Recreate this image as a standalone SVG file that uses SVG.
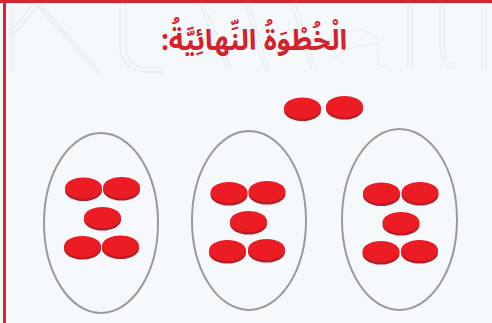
<svg xmlns="http://www.w3.org/2000/svg" width="492" height="323" viewBox="0 0 492 323">
<defs>
<style>
.bg{fill:#f5f9fc}
.wm{fill:none;stroke:#e8ebee;stroke-width:1.2}
.frame{stroke:#d3262f;stroke-width:3;fill:none}
.title{font-family:"Noto Sans Arabic","DejaVu Sans",sans-serif;font-weight:bold;font-size:28px;fill:#d3232c}
.group{fill:none;stroke:#999a9c;stroke-width:2}
.rim{fill:#b51d27}
.face{fill:#ec1c24}
</style>
<g id="disc">
<ellipse class="rim" cx="0" cy="1.5" rx="18.5" ry="10.5"/>
<ellipse class="face" cx="0" cy="-1" rx="18.5" ry="10.5"/>
</g>
</defs>
<rect class="bg" x="0" y="0" width="492" height="323"/>
<g id="watermark">
<path class="wm" d="M10 8 V70 M13 8 V70 M10 32 L34 4 M13 35 L38 6 M36 4 L98 74 M40 4 L102 74"/>
<path class="wm" d="M120 0 V45 Q120 72 150 72 H164 M126 0 V45 Q126 68 150 68 H164"/>
<path class="wm" d="M200 5 L228 70 M204 5 L232 70 M245 5 L265 70 M249 5 L269 70 M292 5 L312 70 M296 5 L316 70"/>
<path class="wm" d="M330 40 Q360 20 378 40 V62 Q380 70 388 66 M378 44 Q345 45 333 60"/>
<path class="wm" d="M408 5 V70 M412 5 V70 M440 5 V45 Q441 68 455 68 M444 5 V45 Q445 64 455 64 M482 5 V70 M486 5 V70"/>
</g>
<g id="frame">
<line class="frame" x1="0" y1="1.5" x2="492" y2="1.5"/>
<line class="frame" x1="4.5" y1="0" x2="4.5" y2="323"/>
</g>
<g id="title">
<text class="title" x="254" y="50" text-anchor="middle" direction="rtl">الْخُطْوَةُ النِّهائِيَّةُ:</text>
</g>
<g id="extra">
<use href="#disc" x="302.5" y="109"/>
<use href="#disc" x="344.5" y="107.5"/>
</g>
<g id="set1">
<ellipse class="group" cx="101" cy="223" rx="57" ry="90"/>
<use href="#disc" x="83.5" y="189"/>
<use href="#disc" x="121.5" y="188.5"/>
<use href="#disc" x="102.5" y="218.5"/>
<use href="#disc" x="82.5" y="247.5"/>
<use href="#disc" x="120.5" y="247"/>
</g>
<g id="set2">
<ellipse class="group" cx="249" cy="220.5" rx="57" ry="89.5"/>
<use href="#disc" x="229" y="193.5"/>
<use href="#disc" x="267" y="192.5"/>
<use href="#disc" x="248.5" y="222.5"/>
<use href="#disc" x="227.5" y="251.5"/>
<use href="#disc" x="266.5" y="250.5"/>
</g>
<g id="set3">
<ellipse class="group" cx="399.5" cy="219.5" rx="57.5" ry="90.5"/>
<use href="#disc" x="381.5" y="194"/>
<use href="#disc" x="420" y="193.5"/>
<use href="#disc" x="401" y="223.5"/>
<use href="#disc" x="381" y="252.5"/>
<use href="#disc" x="419.5" y="251.5"/>
</g>
<g id="connectors"/>
</svg>
